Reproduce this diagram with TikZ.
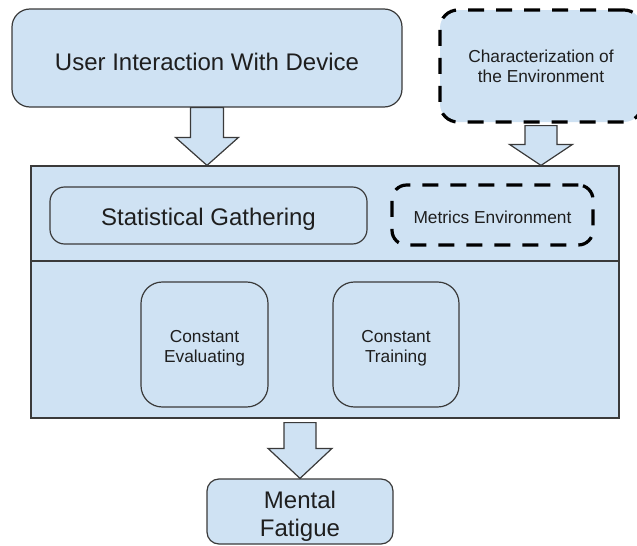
\documentclass[tikz,border=0pt]{standalone}
\usepackage{fontspec}
\setmainfont{Liberation Sans}
\usetikzlibrary{calc}
\definecolor{boxfill}{HTML}{CFE2F3}
\definecolor{edge}{HTML}{3A3A3A}
\definecolor{ink}{HTML}{1E1E1E}

\begin{document}
\begin{tikzpicture}[x=0.75pt,y=-0.75pt,
  panel/.style 2 args={draw=edge, line width=0.9pt, fill=boxfill, text=ink,
    inner sep=0pt,
    minimum width=#1*0.75pt, minimum height=#2*0.75pt},
  dashedge/.style={draw=black, line width=2.4pt, dash pattern=on 12pt off 9pt},
  bigtxt/.style={font=\fontsize{18}{21}\selectfont},
  smalltxt/.style={font=\fontsize{13}{15}\selectfont},
  blk/.style={draw=edge, line width=0.9pt, fill=boxfill, line join=miter}]

\useasboundingbox (0,0) rectangle (637,546);

% input boxes
\node[panel={390}{98}, rounded corners=13.5pt, bigtxt,
      text height=18.9pt, text depth=0pt] (user) at (207,58)
  {User Interaction With Device};
\node[panel={202}{112}, rounded corners=13.5pt, dashedge, smalltxt, align=center] (env) at (541,66)
  {Characterization of\\the Environment};

% processing container with its two bands
\node[panel={588}{252}] (cont) at (325,292) {};
\coordinate (div) at (0,261);
\draw[draw=edge, line width=0.9pt] (cont.west |- div) -- (cont.east |- div);

\node[panel={317}{57}, rounded corners=11pt, bigtxt,
      text height=14.4pt, text depth=0pt] (stat) at (208.5,215.5)
  {Statistical Gathering};
\node[panel={201}{60}, rounded corners=11pt, dashedge, smalltxt,
      text height=12.3pt, text depth=0pt] (metrics) at (492.5,215)
  {Metrics Environment};

\node[panel={127}{125}, rounded corners=16pt, smalltxt, align=center] (eval) at (204.5,344.5)
  {\rule{0pt}{14pt}Constant\\Evaluating};
\node[panel={126}{125}, rounded corners=16pt, smalltxt, align=center] (train) at (396,344.5)
  {\rule{0pt}{14pt}Constant\\Training};

% output
\node[panel={186}{65}, rounded corners=9pt, bigtxt, align=center] (mental) at (300,511.5)
  {\rule{0pt}{20.6pt}Mental\\Fatigue};

% block arrows
\coordinate (t1) at (user.south |- cont.north);
\draw[blk] ($(user.south)+(-16.5,0)$) -- ($(t1)+(-16.5,-28)$) -- ($(t1)+(-31.5,-28)$)
  -- (t1) -- ($(t1)+(31.5,-28)$) -- ($(t1)+(16.5,-28)$) -- ($(user.south)+(16.5,0)$) -- cycle;

\coordinate (s2) at ($(env.south)+(0,2)$);
\coordinate (t2) at (env.south |- cont.north);
\draw[blk] ($(s2)+(-16,0)$) -- ($(t2)+(-16,-21)$) -- ($(t2)+(-31.5,-21)$)
  -- (t2) -- ($(t2)+(31.5,-21)$) -- ($(t2)+(16,-21)$) -- ($(s2)+(16,0)$) -- cycle;

\coordinate (s3) at ($(mental.north |- cont.south)+(0,4)$);
\draw[blk] ($(s3)+(-16,0)$) -- ($(mental.north)+(-16,-30)$) -- ($(mental.north)+(-32,-30)$)
  -- (mental.north) -- ($(mental.north)+(32,-30)$) -- ($(mental.north)+(16,-30)$)
  -- ($(s3)+(16,0)$) -- cycle;

\end{tikzpicture}
\end{document}
